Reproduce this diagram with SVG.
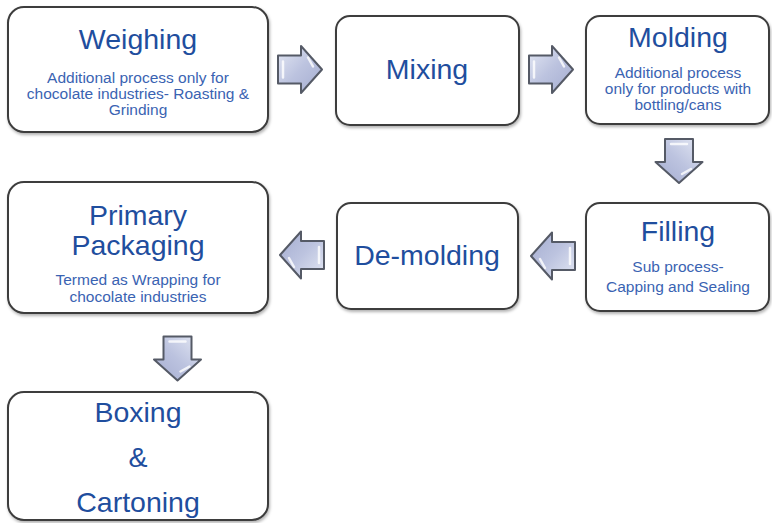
<svg xmlns="http://www.w3.org/2000/svg" width="772" height="523" viewBox="0 0 772 523">
  <defs>
    <linearGradient id="arrowFill" x1="0" y1="0" x2="1" y2="1">
      <stop offset="0" stop-color="#e4e8f4"/>
      <stop offset="0.5" stop-color="#bcc3df"/>
      <stop offset="1" stop-color="#a4acd0"/>
    </linearGradient>
    <filter id="shadow" x="-5%" y="-5%" width="110%" height="115%">
      <feDropShadow dx="1" dy="2" stdDeviation="1.5" flood-color="#000" flood-opacity="0.3"/>
    </filter>
    <path id="arrowR" d="M-22,-14 H1 V-23.5 L22,0 L1,23.5 V14 H-22 Z"/>
  </defs>
  <style>
    .box { fill: #ffffff; stroke: #3c3c3c; stroke-width: 2; filter: url(#shadow); }
    .arrow { fill: url(#arrowFill); stroke: #555a66; stroke-width: 2; stroke-linejoin: round; }
    .hl { fill: none; stroke: #ffffff; stroke-width: 2.5; stroke-linecap: round; opacity: 0.8; }
    .title { font-family: "Liberation Sans", Arial, sans-serif; font-size: 28.5px; fill: #1f4e9e; text-anchor: middle; }
    .sub { font-family: "Liberation Sans", Arial, sans-serif; font-size: 15.5px; fill: #3a63b2; text-anchor: middle; }
  </style>
  <rect width="772" height="523" fill="#ffffff"/>

  <g id="connectors">
    <g transform="translate(300,69.5)">
      <use href="#arrowR" class="arrow"/>
      <path class="hl" d="M-17,-8 V8 M8,-12 L13,-3"/>
    </g>
    <g transform="translate(551,69.5)">
      <use href="#arrowR" class="arrow"/>
      <path class="hl" d="M-17,-8 V8 M8,-12 L13,-3"/>
    </g>
    <g transform="translate(679,161) rotate(90)">
      <use href="#arrowR" class="arrow"/>
      <path class="hl" d="M-17,-8 V8 M8,-12 L13,-3"/>
    </g>
    <g transform="translate(553,256) rotate(180)">
      <use href="#arrowR" class="arrow"/>
      <path class="hl" d="M-17,-8 V8 M8,-12 L13,-3"/>
    </g>
    <g transform="translate(302,255) rotate(180)">
      <use href="#arrowR" class="arrow"/>
      <path class="hl" d="M-17,-8 V8 M8,-12 L13,-3"/>
    </g>
    <g transform="translate(177.5,358.5) rotate(90)">
      <use href="#arrowR" class="arrow"/>
      <path class="hl" d="M-17,-8 V8 M8,-12 L13,-3"/>
    </g>
  </g>

  <g id="weighing">
    <rect class="box" x="8" y="7" width="260" height="125" rx="16"/>
    <text class="title" x="138" y="49">Weighing</text>
    <text class="sub" x="138" y="83">Additional process only for</text>
    <text class="sub" x="138" y="99">chocolate industries- Roasting &amp;</text>
    <text class="sub" x="138" y="115">Grinding</text>
  </g>

  <g id="mixing">
    <rect class="box" x="336" y="16" width="183" height="109" rx="14"/>
    <text class="title" x="427" y="79">Mixing</text>
  </g>

  <g id="molding">
    <rect class="box" x="586" y="16" width="183" height="108" rx="14"/>
    <text class="title" x="678" y="47">Molding</text>
    <text class="sub" x="678" y="78">Additional process</text>
    <text class="sub" x="678" y="94">only for products with</text>
    <text class="sub" x="678" y="110">bottling/cans</text>
  </g>

  <g id="filling">
    <rect class="box" x="586" y="203" width="183" height="108" rx="14"/>
    <text class="title" x="678" y="241">Filling</text>
    <text class="sub" x="678" y="272">Sub process-</text>
    <text class="sub" x="678" y="292">Capping and Sealing</text>
  </g>

  <g id="demolding">
    <rect class="box" x="337" y="203" width="181" height="106" rx="14"/>
    <text class="title" x="427" y="265">De-molding</text>
  </g>

  <g id="primary-packaging">
    <rect class="box" x="8" y="182" width="260" height="131" rx="16"/>
    <text class="title" x="138" y="225">Primary</text>
    <text class="title" x="138" y="255">Packaging</text>
    <text class="sub" x="138" y="285">Termed as Wrapping for</text>
    <text class="sub" x="138" y="302">chocolate industries</text>
  </g>

  <g id="boxing">
    <rect class="box" x="8" y="392" width="260" height="128" rx="16"/>
    <text class="title" x="138" y="422">Boxing</text>
    <text class="title" x="138" y="467">&amp;</text>
    <text class="title" x="138" y="512">Cartoning</text>
  </g>
</svg>
